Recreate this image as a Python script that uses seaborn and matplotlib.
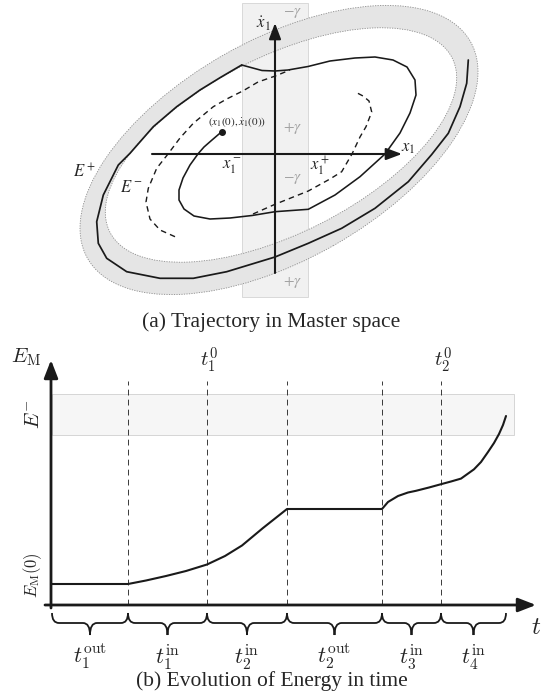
import matplotlib
matplotlib.use("Agg")
import matplotlib.pyplot as plt
import seaborn as sns
from matplotlib.patches import Rectangle, PathPatch
from matplotlib.path import Path
from matplotlib.transforms import Affine2D

# ------------------------------------------------------------------
# (a) Trajectory in Master space  (coordinates: x1 , x1dot ; origin at axes crossing)
# ------------------------------------------------------------------
traj_in_x = [-53.3, -63, -71, -76.7, -85, -92, -96, -96, -91, -81, -65, -45, -23, 0,
             33.3, 60, 85, 110, 125, 135, 141, 140, 132, 118, 100, 80, 55, 33, 13, 0, -13, -33.3]
traj_in_y = [22.3, 14, 7, 0.5, -11, -24, -36, -46, -55, -62, -65, -64, -61.5, -57.7,
             -55.3, -41, -22.7, 0, 21, 41, 59, 74, 87, 94, 97, 96, 93, 87.5, 84, 83, 83.5, 89]

loop_x = [-33.3, -54.3, -75, -98.3, -121.7, -145, -156.7, -171.7, -178.3, -176.7, -168.3,
          -148.3, -115, -81.7, -48.3, 0, 33.3, 66.7, 100, 133.3, 156.7, 173.3, 185, 191.7, 193.3]
loop_y = [89, 76.7, 64, 47.3, 27.3, 0.7, -11, -41, -67.7, -89.3, -104.3,
          -117.7, -124.3, -124.3, -117.7, -103, -89.3, -74.3, -54.3, -27.7, -0.5, 20.7, 47.3, 70.7, 94]

dash_left_x = [-100, -115, -125, -129, -126.7, -118.3, -107, -95, -81.7, -61.7, -48.3, -31.7, -17, 0.3, 15]
dash_left_y = [-82.7, -76, -65, -48, -34.3, -14.3, 0, 16, 30.7, 47.3, 55, 63.3, 72, 78, 84]

dash_right_x = [-22, 0, 33.3, 55, 66.7, 77, 85, 91, 96.7, 94, 88, 81.7]
dash_right_y = [-60, -50.3, -37, -25, -17.7, 0, 17, 27.3, 42, 53, 58, 61.3]

start_x, start_y = -53.3, 22.3

# energy band E+ / E- (outer / inner level ellipses): centre, semi-axes, tilt
band_outer = dict(cx=4, cy=4, a=220, b=110, angle=29.5)
band_inner = dict(cx=6, cy=9, a=192, b=88, angle=27)
gamma_strip = (-33, 33, -143, 151)   # x from, x to, y from, y to

# ------------------------------------------------------------------
# (b) Evolution of Energy in time
# ------------------------------------------------------------------
t_breaks = [1, 77, 156, 236, 331, 390, 455]
t_curve = [0, 77, 95, 115, 135, 156, 174, 191, 212, 236, 331, 337, 347, 357, 365, 378, 390,
           400, 410, 423, 430, 437, 443, 448, 452, 455]
E_curve = [21, 21, 24.5, 29, 34, 40.5, 49, 59.5, 77, 96, 96, 103, 109, 112.5, 114.2, 117.5, 120.8,
           123.5, 126.4, 135.7, 143, 153, 162, 171, 180, 189]
E_minus_band = (170, 211)
E_M0 = 21
interval_labels = [r"$t_1^{\mathrm{out}}$", r"$t_1^{\mathrm{in}}$", r"$t_2^{\mathrm{in}}$",
                   r"$t_2^{\mathrm{out}}$", r"$t_3^{\mathrm{in}}$", r"$t_4^{\mathrm{in}}$"]
t0_labels = [r"$t_1^0$", r"$t_2^0$"]
t0_positions = [156, 390]

# ------------------------------------------------------------------
sns.set_theme(style="white")
plt.rcParams["font.family"] = ["DejaVu Sans"]

W, H = 543, 698
fig = plt.figure(figsize=(W / 100, H / 100), dpi=100)

# ---------------- top panel ----------------
axa = fig.add_axes([0, 1 - 310 / H, 1, 310 / H])

gx0, gx1, gy0, gy1 = gamma_strip
axa.add_patch(Rectangle((gx0, gy0), gx1 - gx0, gy1 - gy0, fc="#f1f1f1", ec="#d4d4d4", lw=0.6, zorder=1))

circ = Path.unit_circle()
po = Affine2D().scale(band_outer["a"], band_outer["b"]).rotate_deg(band_outer["angle"]).translate(
    band_outer["cx"], band_outer["cy"]).transform_path(circ)
pi = Affine2D().scale(band_inner["a"], -band_inner["b"]).rotate_deg(band_inner["angle"]).translate(
    band_inner["cx"], band_inner["cy"]).transform_path(circ)
ring = Path.make_compound_path(po, pi)
axa.add_patch(PathPatch(ring, fc="#e5e5e5", ec="#8c8c8c", lw=0.6, ls=(0, (1.5, 1.5)), zorder=2))

# axes arrows
axa.annotate("", xy=(127, 0), xytext=(-123, 0),
             arrowprops=dict(arrowstyle="-|>,head_length=0.8,head_width=0.3", color="k", lw=1.5,
                             shrinkA=0, shrinkB=0), zorder=4)
axa.annotate("", xy=(0, 131), xytext=(0, -119),
             arrowprops=dict(arrowstyle="-|>,head_length=0.8,head_width=0.3", color="k", lw=1.5,
                             shrinkA=0, shrinkB=0), zorder=4)

sns.lineplot(x=loop_x, y=loop_y, sort=False, estimator=None, color="k", lw=1.25, ax=axa, zorder=5)
sns.lineplot(x=traj_in_x, y=traj_in_y, sort=False, estimator=None, color="k", lw=1.15, ax=axa, zorder=5)
sns.lineplot(x=dash_left_x, y=dash_left_y, sort=False, estimator=None, color="k", lw=1.0,
             linestyle=(0, (4, 3)), ax=axa, zorder=5)
sns.lineplot(x=dash_right_x, y=dash_right_y, sort=False, estimator=None, color="k", lw=1.0,
             linestyle=(0, (4, 3)), ax=axa, zorder=5)
axa.plot([start_x], [start_y], "o", color="k", ms=4, zorder=6)
axa.set_xlim(-275, 268)
axa.set_ylim(-156, 154)
axa.axis("off")

mf = "stix"
axa.text(-12, 130, r"$\dot{x}_1$", ha="center", va="center", fontsize=12, math_fontfamily=mf)
axa.text(133, 7, r"$x_1$", ha="center", va="center", fontsize=12, math_fontfamily=mf)
axa.text(-43, -12, r"$x_1^-$", ha="center", va="center", fontsize=12, math_fontfamily=mf)
axa.text(45, -12, r"$x_1^+$", ha="center", va="center", fontsize=12, math_fontfamily=mf)
axa.text(-190, -18, r"$E^+$", ha="center", va="center", fontsize=12, math_fontfamily=mf)
axa.text(-143, -33, r"$E^-$", ha="center", va="center", fontsize=12, math_fontfamily=mf)
axa.text(-38, 32, r"$(x_1(0),\dot{x}_1(0))$", ha="center", va="center", fontsize=8, math_fontfamily=mf)
for yy, s in [(142, r"$-\gamma$"), (26, r"$+\gamma$"), (-24, r"$-\gamma$"), (-129, r"$+\gamma$")]:
    axa.text(18, yy, s, ha="center", va="center", fontsize=11, color="#a3a3a3", math_fontfamily=mf)

# ---------------- bottom panel ----------------
axb = fig.add_axes([0, 0, 1, 358 / H])
xb0, xb1, yb0, yb1 = -51, 492, -93, 265

axb.add_patch(Rectangle((1, E_minus_band[0]), 462, E_minus_band[1] - E_minus_band[0],
                        fc="#f6f6f6", ec="#cfcfcf", lw=0.6, zorder=1))
for tb in t_breaks[1:-1]:
    axb.plot([tb, tb], [0, 224], color="k", lw=0.6, ls=(0, (7, 5)), zorder=2)

sns.lineplot(x=t_curve, y=E_curve, sort=False, estimator=None, color="k", lw=1.5, ax=axb, zorder=4)

axb.annotate("", xy=(0, 245), xytext=(0, -3),
             arrowprops=dict(arrowstyle="-|>,head_length=0.9,head_width=0.35", color="k", lw=2.0,
                             shrinkA=0, shrinkB=0), zorder=5)
axb.annotate("", xy=(485, 0), xytext=(-6, 0),
             arrowprops=dict(arrowstyle="-|>,head_length=0.9,head_width=0.35", color="k", lw=2.0,
                             shrinkA=0, shrinkB=0), zorder=5)

# braces
ytip, ybar, ymid, r = -8, -18, -30, 7
for i in range(len(t_breaks) - 1):
    x0, x1 = t_breaks[i], t_breaks[i + 1]
    xm = 0.5 * (x0 + x1)
    verts = [(x0, ytip), (x0, ybar), (x0 + r, ybar), (xm - r, ybar), (xm, ybar), (xm, ymid),
             (xm, ybar), (xm + r, ybar), (x1 - r, ybar), (x1, ybar), (x1, ytip)]
    codes = [Path.MOVETO, Path.CURVE3, Path.CURVE3, Path.LINETO, Path.CURVE3, Path.CURVE3,
             Path.CURVE3, Path.CURVE3, Path.LINETO, Path.CURVE3, Path.CURVE3]
    axb.add_patch(PathPatch(Path(verts, codes), fc="none", ec="k", lw=1.3, zorder=5))
    axb.text(xm, -52, interval_labels[i], ha="center", va="center", fontsize=16, math_fontfamily="cm")

axb.set_xlim(xb0, xb1)
axb.set_ylim(yb0, yb1)
axb.axis("off")

cm = "cm"
axb.text(-25, 248, r"$E_{\mathrm{M}}$", ha="center", va="center", fontsize=15, math_fontfamily=cm)
for tp, s in zip(t0_positions, t0_labels):
    axb.text(tp + 2, 245, s, ha="center", va="center", fontsize=15, math_fontfamily=cm)
axb.text(-18, 0.5 * sum(E_minus_band), r"$E^{-}$", ha="center", va="center", rotation=90,
         fontsize=15, math_fontfamily=cm)
axb.text(-18, 30, r"$E_{\mathrm{M}}(0)$", ha="center", va="center", rotation=90,
         fontsize=12, math_fontfamily=cm)
axb.text(490.5, -22, r"$t$", ha="right", va="center", fontsize=18, math_fontfamily=cm)

fig.text(0.5, 1 - 322 / H, "(a) Trajectory in Master space", ha="center", va="center",
         fontsize=15.5, family="Liberation Serif")
fig.text(0.5, 1 - 681 / H, "(b) Evolution of Energy in time", ha="center", va="center",
         fontsize=15.5, family="Liberation Serif")

fig.savefig("out.png", dpi=100)
